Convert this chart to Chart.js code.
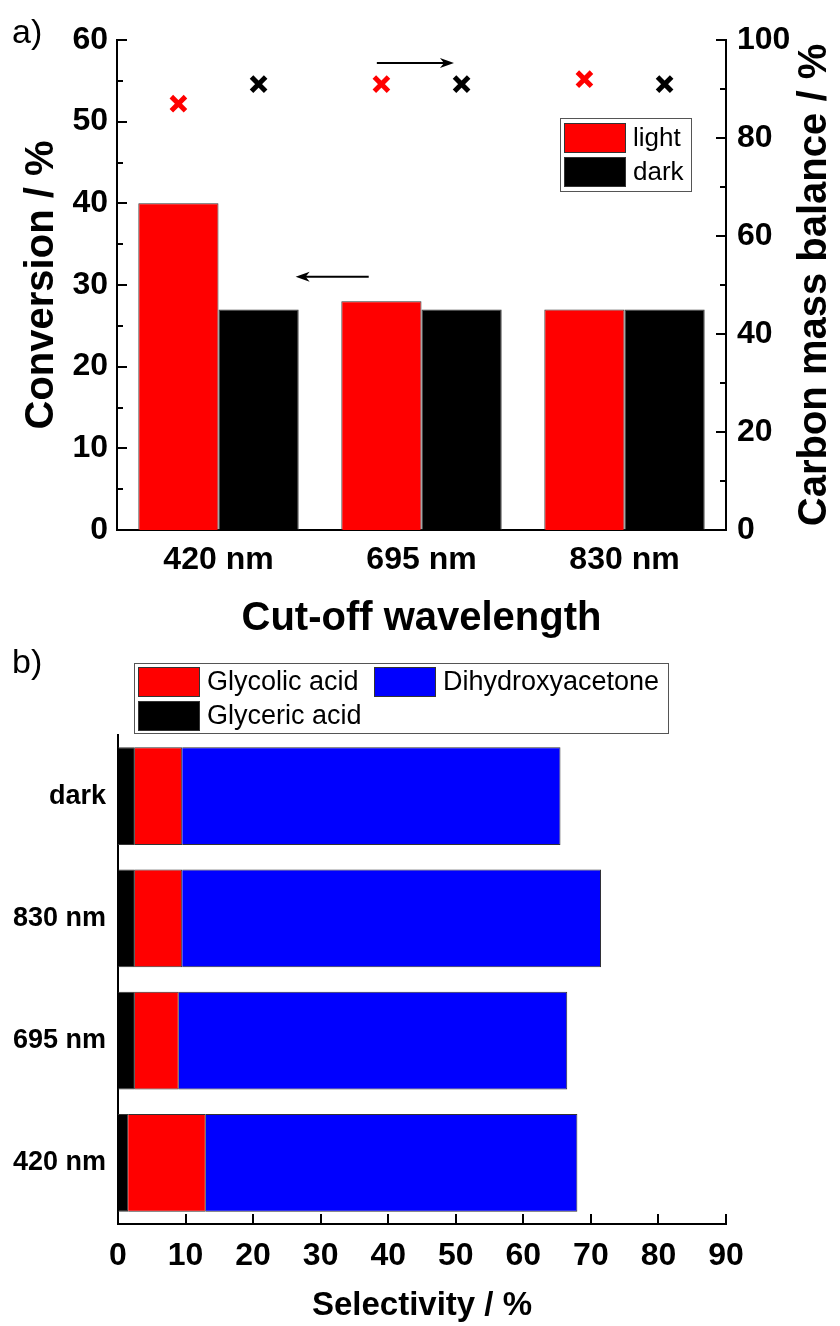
<!DOCTYPE html>
<html>
<head>
<meta charset="utf-8">
<script src="https://cdn.jsdelivr.net/npm/chart.js@4"></script>
<style>
  html, body { margin: 0; padding: 0; background: #fff; }
  #wrap { position: relative; width: 840px; height: 1326px; }
  #top, #marks { position: absolute; left: 0; top: 0; }
  #bottom { position: absolute; left: 0; top: 640px; }
</style>
</head>
<body>
<div id="wrap">
  <canvas id="top" width="840" height="640"></canvas>
  <canvas id="marks" width="840" height="640"></canvas>
  <canvas id="bottom" width="840" height="686"></canvas>
</div>
<script>
// a) conversion (bars, left axis) and carbon mass balance (crosses, right axis)
const wavelengths = ["420 nm", "695 nm", "830 nm"];
const conversionLight = [40, 28, 27];
const conversionDark = [27, 27, 27];
const balanceLight = [87, 91, 92];
const balanceDark = [91, 91, 91];
const conversionTicks = [0, 10, 20, 30, 40, 50, 60];
const balanceTicks = [0, 20, 40, 60, 80, 100];

// b) selectivity, stacked
const samples = ["dark", "830 nm", "695 nm", "420 nm"];
const glycericAcid = [2.5, 2.5, 2.5, 1.5];
const glycolicAcid = [7, 7, 6.5, 11.5];
const dihydroxyacetone = [56, 62, 57.5, 55];
const selectivityTicks = [0, 10, 20, 30, 40, 50, 60, 70, 80, 90];

const FONT = "'Liberation Sans', Arial, sans-serif";
const RED = "#ff0000";
const BLUE = "#0000ff";
const EDGE = "#333333";
const groupFrac = 0.79;
// plot area of panel a), shared by the bar chart and the cross overlay
const areaA = { left: 117, right: 114, top: 40, bottom: 110 };

const setTicks = (list) => (scale) => {
  scale.ticks = list.map((v) => ({ value: v }));
};

// ticks drawn on the inside of the axes, with optional minor ticks
const innerTicks = {
  id: "innerTicks",
  afterDatasetsDraw(chart, args, opts) {
    const ctx = chart.ctx;
    ctx.save();
    ctx.strokeStyle = "#000";
    ctx.lineWidth = 2;
    opts.axes.forEach((a) => {
      const scale = chart.scales[a.id];
      for (let v = scale.min; v <= scale.max + 1e-9; v += a.step) {
        const major = Math.abs(v / a.major - Math.round(v / a.major)) < 1e-6;
        const len = major ? 10 : 6;
        const p = Math.round(scale.getPixelForValue(v));
        ctx.beginPath();
        if (scale.isHorizontal()) {
          ctx.moveTo(p, scale.top);
          ctx.lineTo(p, scale.top - len);
        } else if (scale.position === "left") {
          ctx.moveTo(scale.right, p);
          ctx.lineTo(scale.right + len, p);
        } else {
          ctx.moveTo(scale.left, p);
          ctx.lineTo(scale.left - len, p);
        }
        ctx.stroke();
      }
    });
    ctx.restore();
  },
};

function drawArrow(ctx, x1, y1, x2, y2) {
  const dir = Math.sign(x2 - x1);
  ctx.beginPath();
  ctx.moveTo(x1, y1);
  ctx.lineTo(x2 - dir * 8, y2);
  ctx.stroke();
  ctx.beginPath();
  ctx.moveTo(x2, y2);
  ctx.lineTo(x2 - dir * 14, y2 - 5);
  ctx.lineTo(x2 - dir * 10, y2);
  ctx.lineTo(x2 - dir * 14, y2 + 5);
  ctx.closePath();
  ctx.fill();
}

function drawBoxLegend(ctx, box, items, font) {
  ctx.save();
  ctx.fillStyle = "#fff";
  ctx.fillRect(box.x, box.y, box.w, box.h);
  ctx.strokeStyle = "#555";
  ctx.lineWidth = 1;
  ctx.strokeRect(box.x + 0.5, box.y + 0.5, box.w, box.h);
  ctx.font = font;
  ctx.textBaseline = "middle";
  items.forEach((it) => {
    ctx.fillStyle = it.color;
    ctx.fillRect(it.x, it.y, 62, 30);
    ctx.strokeStyle = EDGE;
    ctx.strokeRect(it.x + 0.5, it.y + 0.5, 61, 29);
    ctx.fillStyle = "#000";
    ctx.fillText(it.label, it.x + 69, it.y + 16);
  });
  ctx.restore();
}

const topDecor = {
  id: "topDecor",
  afterDraw(chart) {
    const ctx = chart.ctx;
    const { x, y, y1 } = chart.scales;
    ctx.save();
    ctx.fillStyle = "#000";
    ctx.strokeStyle = "#000";
    ctx.lineWidth = 2;
    // arrows pointing to the axis each series belongs to
    drawArrow(ctx, x.getPixelForValue(0.74), y.getPixelForValue(31), x.getPixelForValue(0.38), y.getPixelForValue(31));
    drawArrow(ctx, x.getPixelForValue(0.78), y1.getPixelForValue(95.3), x.getPixelForValue(1.16), y1.getPixelForValue(95.3));

    // right axis title, reading bottom to top
    ctx.font = "bold 40px " + FONT;
    ctx.textAlign = "center";
    ctx.textBaseline = "middle";
    ctx.translate(815, (chart.chartArea.top + chart.chartArea.bottom) / 2);
    ctx.rotate(-Math.PI / 2);
    ctx.fillText("Carbon mass balance / %", 0, 0);
    ctx.setTransform(1, 0, 0, 1, 0, 0);

    ctx.font = "34px " + FONT;
    ctx.textAlign = "left";
    ctx.fillText("a)", 12, 34);
    ctx.restore();

    drawBoxLegend(ctx, { x: 560, y: 118, w: 131, h: 73 }, [
      { label: "light", color: RED, x: 564, y: 123 },
      { label: "dark", color: "#000", x: 564, y: 157 },
    ], "26px " + FONT);
  },
};

const barStyle = {
  borderColor: EDGE,
  borderWidth: 1,
  categoryPercentage: groupFrac,
  barPercentage: 1,
};

new Chart(document.getElementById("top"), {
  type: "bar",
  data: {
    labels: wavelengths,
    datasets: [
      { label: "light", data: conversionLight, backgroundColor: RED, yAxisID: "y", ...barStyle },
      { label: "dark", data: conversionDark, backgroundColor: "#000", yAxisID: "y", ...barStyle },
    ],
  },
  options: {
    responsive: false,
    animation: false,
    layout: { padding: { top: areaA.top, left: 0, right: 0, bottom: 0 } },
    plugins: {
      legend: { display: false },
      tooltip: { enabled: false },
      innerTicks: {
        axes: [
          { id: "y", step: 5, major: 10 },
          { id: "y1", step: 10, major: 20 },
        ],
      },
    },
    scales: {
      x: {
        type: "category",
        position: "bottom",
        grid: { display: false, drawTicks: false },
        border: { display: true, color: "#000", width: 2 },
        ticks: { color: "#000", padding: 11, font: { family: FONT, size: 32, weight: "bold" } },
        title: {
          display: true,
          text: "Cut-off wavelength",
          color: "#000",
          padding: { top: 0, bottom: 1 },
          font: { family: FONT, size: 40, weight: "bold", lineHeight: 1 },
        },
        afterFit: (s) => { s.height = areaA.bottom; },
      },
      y: {
        position: "left",
        min: 0,
        max: 60,
        grid: { display: false, drawTicks: false },
        border: { display: true, color: "#000", width: 2 },
        afterBuildTicks: setTicks(conversionTicks),
        ticks: { color: "#000", padding: 9, font: { family: FONT, size: 32, weight: "bold" } },
        title: {
          display: true,
          text: "Conversion / %",
          color: "#000",
          padding: { top: 22, bottom: 0 },
          font: { family: FONT, size: 40, weight: "bold", lineHeight: 1 },
        },
        afterFit: (s) => { s.width = areaA.left; },
      },
      y1: {
        position: "right",
        min: 0,
        max: 100,
        grid: { display: false, drawTicks: false },
        border: { display: true, color: "#000", width: 2 },
        afterBuildTicks: setTicks(balanceTicks),
        ticks: { color: "#000", padding: 11, font: { family: FONT, size: 32, weight: "bold" } },
        afterFit: (s) => { s.width = areaA.right; },
      },
    },
  },
  plugins: [innerTicks, topDecor],
});

// crosses sit over the light / dark bar of each group
const crossX = (i, side) => i + 0.5 + side * groupFrac / 4;

const crossStyle = {
  pointStyle: "crossRot",
  pointRadius: 10,
  pointBorderWidth: 5,
  borderWidth: 5,
};

new Chart(document.getElementById("marks"), {
  type: "scatter",
  data: {
    datasets: [
      {
        label: "balance light",
        data: balanceLight.map((v, i) => ({ x: crossX(i, -1), y: v })),
        borderColor: RED,
        backgroundColor: RED,
        ...crossStyle,
      },
      {
        label: "balance dark",
        data: balanceDark.map((v, i) => ({ x: crossX(i, 1), y: v })),
        borderColor: "#000",
        backgroundColor: "#000",
        ...crossStyle,
      },
    ],
  },
  options: {
    responsive: false,
    animation: false,
    layout: { padding: areaA },
    plugins: { legend: { display: false }, tooltip: { enabled: false } },
    scales: {
      x: { type: "linear", display: false, min: 0, max: wavelengths.length },
      y: { type: "linear", display: false, min: 0, max: 100 },
    },
  },
});

const bottomDecor = {
  id: "bottomDecor",
  afterDraw(chart) {
    const ctx = chart.ctx;
    ctx.save();
    ctx.fillStyle = "#000";
    ctx.font = "34px " + FONT;
    ctx.textBaseline = "middle";
    ctx.fillText("b)", 12, 24);
    ctx.restore();
    drawBoxLegend(ctx, { x: 134, y: 23, w: 534, h: 70 }, [
      { label: "Glycolic acid", color: RED, x: 138, y: 27 },
      { label: "Dihydroxyacetone", color: BLUE, x: 374, y: 27 },
      { label: "Glyceric acid", color: "#000", x: 138, y: 61 },
    ], "27px " + FONT);
  },
};

const stackStyle = {
  borderColor: EDGE,
  borderWidth: 1,
  categoryPercentage: 0.8,
  barPercentage: 1,
};

new Chart(document.getElementById("bottom"), {
  type: "bar",
  data: {
    labels: samples,
    datasets: [
      { label: "Glyceric acid", data: glycericAcid, backgroundColor: "#000", ...stackStyle },
      { label: "Glycolic acid", data: glycolicAcid, backgroundColor: RED, ...stackStyle },
      { label: "Dihydroxyacetone", data: dihydroxyacetone, backgroundColor: BLUE, ...stackStyle },
    ],
  },
  options: {
    indexAxis: "y",
    responsive: false,
    animation: false,
    layout: { padding: { top: 95, left: 0, right: 114, bottom: 0 } },
    plugins: {
      legend: { display: false },
      tooltip: { enabled: false },
      innerTicks: { axes: [{ id: "x", step: 10, major: 10 }] },
    },
    scales: {
      x: {
        stacked: true,
        min: 0,
        max: 90,
        grid: { display: false, drawTicks: false },
        border: { display: true, color: "#000", width: 2 },
        afterBuildTicks: setTicks(selectivityTicks),
        ticks: { color: "#000", padding: 13, font: { family: FONT, size: 32, weight: "bold" } },
        title: {
          display: true,
          text: "Selectivity / %",
          color: "#000",
          padding: { top: 0, bottom: 4 },
          font: { family: FONT, size: 33, weight: "bold", lineHeight: 1 },
        },
        afterFit: (s) => { s.height = 102; },
      },
      y: {
        stacked: true,
        grid: { display: false, drawTicks: false },
        border: { display: true, color: "#000", width: 2 },
        ticks: { color: "#000", padding: 12, font: { family: FONT, size: 27, weight: "bold" } },
        afterFit: (s) => { s.width = 118; },
      },
    },
  },
  plugins: [innerTicks, bottomDecor],
});
</script>
</body>
</html>
